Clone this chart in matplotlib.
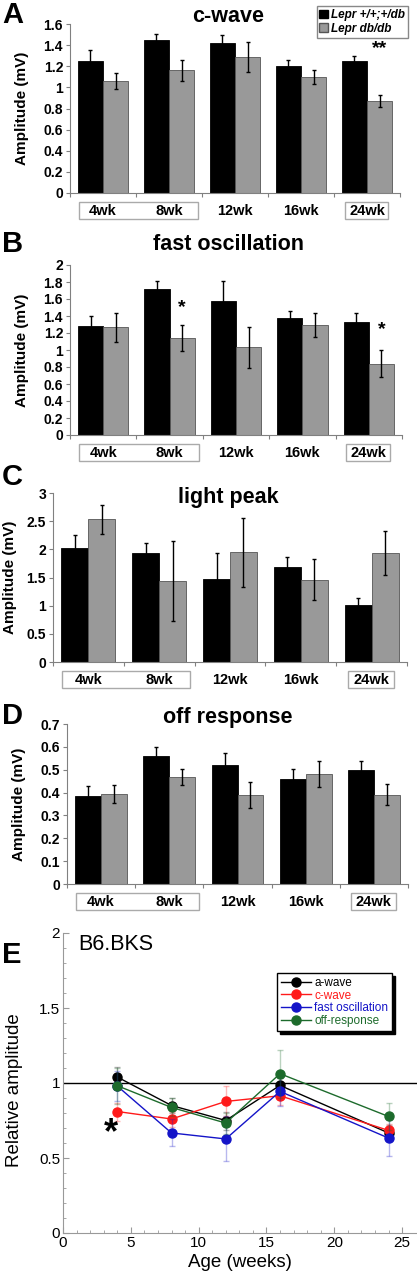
import numpy as np
import matplotlib.pyplot as plt
import matplotlib.transforms as mtransforms
from matplotlib.patches import Rectangle, Patch

plt.rcParams['font.family'] = ['Liberation Sans', 'DejaVu Sans']

# --- data ---
weeks = ['4wk', '8wk', '12wk', '16wk', '24wk']

cwave_ctrl = [1.25, 1.45, 1.42, 1.20, 1.25]
cwave_ctrl_err = [0.10, 0.06, 0.08, 0.06, 0.05]
cwave_db = [1.06, 1.16, 1.29, 1.10, 0.87]
cwave_db_err = [0.08, 0.095, 0.14, 0.065, 0.06]

fast_ctrl = [1.28, 1.72, 1.58, 1.38, 1.33]
fast_ctrl_err = [0.12, 0.09, 0.23, 0.08, 0.10]
fast_db = [1.27, 1.14, 1.03, 1.29, 0.84]
fast_db_err = [0.17, 0.155, 0.24, 0.14, 0.16]

light_ctrl = [2.03, 1.93, 1.48, 1.68, 1.01]
light_ctrl_err = [0.22, 0.18, 0.46, 0.19, 0.13]
light_db = [2.53, 1.43, 1.95, 1.46, 1.93]
light_db_err = [0.26, 0.71, 0.61, 0.36, 0.39]

off_ctrl = [0.385, 0.56, 0.52, 0.46, 0.497]
off_ctrl_err = [0.043, 0.04, 0.055, 0.045, 0.043]
off_db = [0.395, 0.47, 0.39, 0.48, 0.39]
off_db_err = [0.04, 0.035, 0.057, 0.057, 0.046]

age = [4, 8, 12, 16, 24]
rel_awave = [1.04, 0.85, 0.75, 0.984, 0.667]
rel_awave_err = [0.07, 0.05, 0.06, 0.05, 0.05]
rel_cwave = [0.81, 0.76, 0.877, 0.915, 0.684]
rel_cwave_err = [0.06, 0.05, 0.10, 0.06, 0.04]
rel_fast = [0.98, 0.667, 0.627, 0.944, 0.633]
rel_fast_err = [0.10, 0.09, 0.15, 0.10, 0.12]
rel_off = [0.982, 0.837, 0.733, 1.062, 0.777]
rel_off_err = [0.12, 0.06, 0.07, 0.16, 0.09]

W, H = 417, 1280
fig = plt.figure(figsize=(W / 100, H / 100), dpi=100)


def px_axes(l, t, r, b):
    return fig.add_axes([l / W, 1 - b / H, (r - l) / W, (b - t) / H])


def bar_panel(rect, ctrl, ctrl_err, db, db_err, ymax, step, title, title_y,
              letter, letter_y, ylabel_x, stars):
    ax = px_axes(*rect)
    hpx = rect[3] - rect[1]
    x = np.arange(len(weeks))
    w = 0.38
    ax.bar(x - w / 2, ctrl, w, color='black', edgecolor='black', lw=0.6)
    ax.bar(x + w / 2, db, w, color='#999999', edgecolor='#555555', lw=0.6)
    ax.errorbar(x - w / 2, ctrl, yerr=ctrl_err, fmt='none', ecolor='black',
                elinewidth=1, capsize=1.5, capthick=1)
    ax.errorbar(x + w / 2, db, yerr=db_err, fmt='none', ecolor='black',
                elinewidth=1, capsize=1.5, capthick=1)
    ax.set_xlim(-0.5, len(weeks) - 0.5)
    ax.set_ylim(0, ymax)
    ticks = np.arange(0, ymax + step / 2, step)
    ax.set_yticks(ticks)
    ax.set_yticklabels(['%g' % round(v, 2) for v in ticks],
                       fontweight='bold', fontsize=10)
    ax.set_xticks(np.arange(-0.5, len(weeks), 1.0))
    ax.set_xticklabels([])
    for s in ['top', 'right']:
        ax.spines[s].set_visible(False)
    for s in ['left', 'bottom']:
        ax.spines[s].set_color('#808080')
    ax.tick_params(axis='both', direction='out', length=3, color='#808080', pad=2)
    trans = mtransforms.blended_transform_factory(ax.transData, ax.transAxes)
    for i, lab in enumerate(weeks):
        ax.text(i, -18 / hpx, lab, transform=trans, ha='center', va='center',
                fontsize=10.5, fontweight='bold')
    for x0, x1 in [(-0.37, 1.44), (3.66, 4.32)]:
        ax.add_patch(Rectangle((x0, -26 / hpx), x1 - x0, 17 / hpx, transform=trans,
                               fill=False, edgecolor='#aaaaaa', lw=1, clip_on=False))
    for gi, sy, s in stars:
        ax.text(gi + w / 2, sy, s, ha='center', va='center', fontsize=14,
                fontweight='bold')
    fig.text(228 / W, 1 - title_y / H, title, ha='center', va='center',
             fontsize=15.5, fontweight='bold')
    fig.text(2 / W, 1 - letter_y / H, letter, ha='left', va='center',
             fontsize=21, fontweight='bold')
    fig.text(ylabel_x / W, 1 - (rect[1] + rect[3]) / 2 / H, 'Amplitude (mV)',
             rotation=90, ha='center', va='center', fontsize=11, fontweight='bold')
    return ax


bar_panel((70, 24, 400, 193), cwave_ctrl, cwave_ctrl_err, cwave_db, cwave_db_err,
          1.6, 0.2, 'c-wave', 16, 'A', 15, 22, [(4, 1.37, '**')])
bar_panel((70, 265, 402, 435), fast_ctrl, fast_ctrl_err, fast_db, fast_db_err,
          2.0, 0.2, 'fast oscillation', 244, 'B', 244, 22, [(1, 1.5, '*'), (4, 1.24, '*')])
bar_panel((53, 493, 407, 662), light_ctrl, light_ctrl_err, light_db, light_db_err,
          3.0, 0.5, 'light peak', 498, 'C', 477, 10, [])
bar_panel((67, 724, 408, 884), off_ctrl, off_ctrl_err, off_db, off_db_err,
          0.7, 0.1, 'off response', 717, 'D', 716, 19, [])

# legend for bar panels
handles = [Patch(facecolor='black', edgecolor='black'),
           Patch(facecolor='#999999', edgecolor='#555555')]
fig.legend(handles, ['Lepr +/+;+/db', 'Lepr db/db'], loc='upper right',
           bbox_to_anchor=(414 / W, 1.0), prop={'weight': 'bold', 'style': 'italic', 'size': 8.5},
           handlelength=0.7, handleheight=0.7, handletextpad=0.3, labelspacing=0.15,
           borderpad=0.25, fancybox=False, edgecolor='#888888', framealpha=1)

# --- panel E ---
ax = px_axes(63, 933, 417, 1233)
series = [('a-wave', rel_awave, rel_awave_err, 'black'),
          ('c-wave', rel_cwave, rel_cwave_err, '#ff1a1a'),
          ('fast oscillation', rel_fast, rel_fast_err, '#1414c8'),
          ('off-response', rel_off, rel_off_err, '#1d6b2c')]
ax.axhline(1, color='black', lw=1)
for name, vals, err, col in series:
    ax.errorbar(age, vals, yerr=err, fmt='none', ecolor=col, alpha=0.3,
                elinewidth=1, capsize=2)
    ax.plot(age, vals, '-o', color=col, lw=1, ms=6.5, label=name)
ax.set_xlim(0, 26.1)
ax.set_ylim(0, 2)
ax.set_xticks([0, 5, 10, 15, 20, 25])
ax.set_xticks(np.arange(0, 26, 1), minor=True)
ax.set_yticks([0, 0.5, 1, 1.5, 2])
ax.set_yticklabels(['0', '0.5', '1', '1.5', '2'])
ax.set_yticks(np.arange(0, 2.01, 0.1), minor=True)
for s in ['top', 'right']:
    ax.spines[s].set_visible(False)
for s in ['left', 'bottom']:
    ax.spines[s].set_color('#999999')
ax.tick_params(which='both', direction='in', color='#999999', labelsize=11, pad=2)
ax.tick_params(which='major', length=4)
ax.tick_params(which='minor', length=2)
ax.set_xlabel('Age (weeks)', fontsize=13.5, labelpad=3)
ax.text(3.55, 0.66, '*', ha='center', va='center', fontsize=26, fontweight='bold')
ax.text(1.1, 1.92, 'B6.BKS', ha='left', va='center', fontsize=15.5)
leg = ax.legend(loc='upper left', bbox_to_anchor=(271 / W, 1 - 967 / H),
                bbox_transform=fig.transFigure, fontsize=8.5, handlelength=2.5,
                handletextpad=0.3, labelspacing=0.05, borderpad=0.35, fancybox=False,
                edgecolor='black', framealpha=1, shadow={'color': 'black', 'alpha': 1},
                labelcolor='linecolor')
leg.get_frame().set_linewidth(1)
fig.text(15 / W, 1 - 1090 / H, 'Relative amplitude', rotation=90, ha='center',
         va='center', fontsize=13.5)
fig.text(2 / W, 1 - 955 / H, 'E', ha='left', va='center', fontsize=21, fontweight='bold')

fig.savefig('out.png', dpi=100)
